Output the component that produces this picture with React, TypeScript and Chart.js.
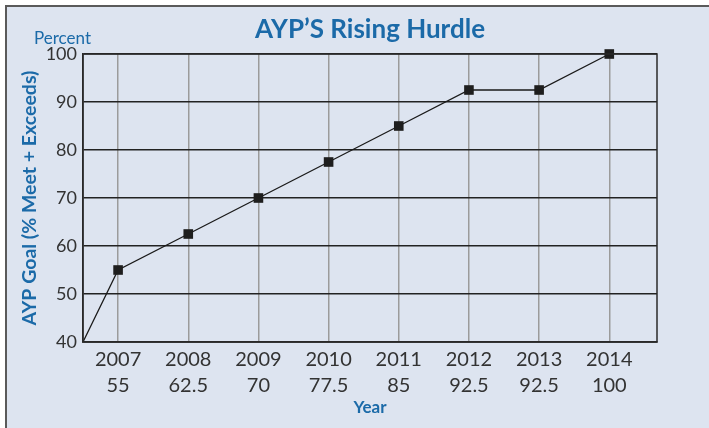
import React, { useEffect, useRef } from "react";
import { Chart, registerables } from "chart.js";

Chart.register(...registerables);

const years = [2007, 2008, 2009, 2010, 2011, 2012, 2013, 2014];
const goals = [55, 62.5, 70, 77.5, 85, 92.5, 92.5, 100];
const goalLabels = ["55", "62.5", "70", "77.5", "85", "92.5", "92.5", "100"];
const startYear = 2006.5;
const startValue = 40;
const yTicks = [40, 50, 60, 70, 80, 90, 100];

const TITLE = "AYP\u2019S Rising Hurdle";
const BLUE = "#1b6aa8";
const FONT = "Lato, 'Open Sans', sans-serif";

const extraText = {
  id: "extraText",
  afterDraw(chart: any) {
    const { ctx, chartArea } = chart;
    ctx.save();
    ctx.strokeStyle = "#2a2a2a";
    ctx.lineWidth = 1.5;
    ctx.strokeRect(chartArea.left, chartArea.top, chartArea.right - chartArea.left, chartArea.bottom - chartArea.top);
    ctx.fillStyle = BLUE;
    ctx.font = `bold 26px ${FONT}`;
    ctx.textAlign = "center";
    ctx.textBaseline = "middle";
    ctx.fillText(TITLE, (chartArea.left + chartArea.right) / 2, 30);
    ctx.font = `17px ${FONT}`;
    ctx.textAlign = "left";
    ctx.textBaseline = "alphabetic";
    ctx.fillText("Percent", chartArea.left - 49, chartArea.top - 10);
    ctx.restore();
  },
};

export default function App() {
  const ref = useRef<HTMLCanvasElement>(null);
  useEffect(() => {
    if (!ref.current) return;
    const data = [{ x: startYear, y: startValue }, ...years.map((y, i) => ({ x: y, y: goals[i] }))];
    const chart = new Chart(ref.current, {
      type: "line",
      data: {
        datasets: [
          {
            data,
            borderColor: "#1a1a1a",
            borderWidth: 1.3,
            pointStyle: "rect",
            pointRadius: data.map((_, i) => (i === 0 ? 0 : 6.8)),
            pointBackgroundColor: "#1e1e1e",
            pointBorderColor: "#1e1e1e",
            pointBorderWidth: 0,
            clip: false,
          } as any,
        ],
      },
      options: {
        animation: false,
        responsive: false,
        events: [],
        layout: { padding: { top: 54, right: 52, left: 0, bottom: 0 } },
        plugins: { legend: { display: false }, tooltip: { enabled: false }, title: { display: false } },
        scales: {
          x: {
            type: "linear",
            min: startYear,
            max: 2014.68,
            z: 1,
            afterBuildTicks: (axis: any) => {
              axis.ticks = years.map((v) => ({ value: v }));
            },
            afterFit: (axis: any) => {
              axis.height = 86;
            },
            grid: { color: "#9b9b9b", lineWidth: 1.5, drawTicks: false },
            border: { color: "#2a2a2a", width: 1.5 },
            ticks: {
              padding: 4,
              color: "#333",
              font: { family: FONT, size: 20, lineHeight: 1.32 },
              maxRotation: 0,
              autoSkip: false,
              callback: (value: any) => {
                const i = years.indexOf(Number(value));
                return i < 0 ? "" : [String(value), goalLabels[i]];
              },
            },
            title: {
              display: true,
              text: "Year",
              color: BLUE,
              font: { family: FONT, size: 17, weight: "bold", lineHeight: 1.2 },
              padding: { top: 0, bottom: 10 },
            },
          },
          y: {
            min: 40,
            max: 100,
            afterBuildTicks: (axis: any) => {
              axis.ticks = yTicks.map((v) => ({ value: v }));
            },
            afterFit: (axis: any) => {
              axis.width = 83;
            },
            grid: { color: "#222", lineWidth: 1.5, drawTicks: false },
            border: { color: "#2a2a2a", width: 1.5 },
            ticks: {
              padding: 6,
              color: "#333",
              font: { family: FONT, size: 18 },
            },
            title: {
              display: true,
              text: "AYP Goal (% Meet + Exceeds)",
              color: BLUE,
              font: { family: FONT, size: 19.5, weight: "bold", lineHeight: 1.2 },
              padding: { top: 18, bottom: 0 },
            },
          },
        },
      },
      plugins: [extraText],
    });
    return () => chart.destroy();
  }, []);

  return (
    <div style={{ position: "fixed", left: 0, top: 0, width: 709, height: 428, background: "#fff" }}>
      <div
        style={{
          position: "absolute",
          left: 5,
          top: 5,
          right: 0,
          bottom: 0,
          background: "#dde4f0",
          borderLeft: "2px solid #5a5a5a",
          borderTop: "2px solid #5a5a5a",
        }}
      />
      <canvas ref={ref} width={709} height={428} style={{ position: "absolute", left: 0, top: 0 }} />
    </div>
  );
}
